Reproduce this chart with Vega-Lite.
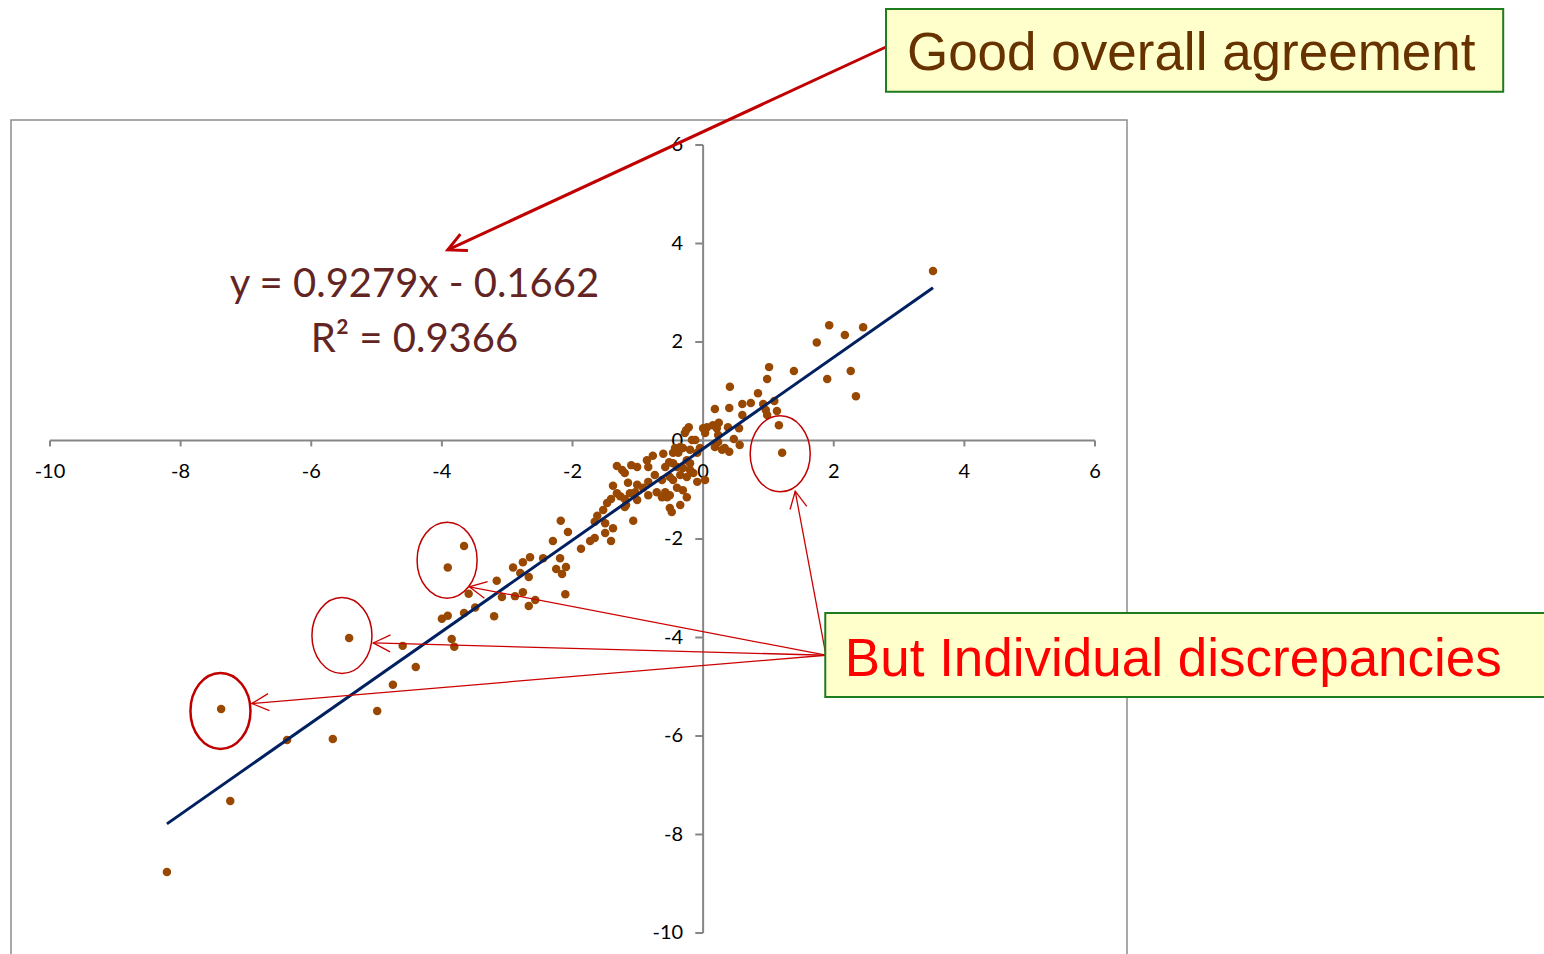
{
  "$schema": "https://vega.github.io/schema/vega-lite/v6.json",
  "width": 1544,
  "height": 954,
  "padding": 0,
  "autosize": {"type": "fit", "contains": "padding"},
  "config": {"view": {"stroke": null}, "font": "Lato"},
  "datasets": {
    "points": [
      {"x": -8.21, "y": -8.76}, {"x": -7.24, "y": -7.32}, {"x": -7.38, "y": -5.45}, {"x": -6.37, "y": -6.08},
      {"x": -5.67, "y": -6.06}, {"x": -5.42, "y": -4.01}, {"x": -4.99, "y": -5.49}, {"x": -4.75, "y": -4.96},
      {"x": -4.40, "y": -4.60}, {"x": -4.60, "y": -4.17}, {"x": -4.00, "y": -3.62}, {"x": -3.91, "y": -3.56},
      {"x": -3.85, "y": -4.03}, {"x": -3.81, "y": -4.19}, {"x": -3.91, "y": -2.58}, {"x": -3.66, "y": -2.14},
      {"x": -3.66, "y": -3.50}, {"x": -3.59, "y": -3.11}, {"x": -3.49, "y": -3.39}, {"x": -3.20, "y": -3.57},
      {"x": -3.16, "y": -2.85}, {"x": -3.08, "y": -3.18}, {"x": -2.91, "y": -2.58}, {"x": -2.88, "y": -3.16},
      {"x": -2.80, "y": -2.69}, {"x": -2.76, "y": -2.47}, {"x": -2.76, "y": -3.08}, {"x": -2.67, "y": -2.77},
      {"x": -2.65, "y": -2.37}, {"x": -2.67, "y": -3.36}, {"x": -2.57, "y": -3.24}, {"x": -2.45, "y": -2.39},
      {"x": -2.30, "y": -2.04}, {"x": -2.18, "y": -1.63}, {"x": -2.07, "y": -1.86}, {"x": -2.19, "y": -2.39},
      {"x": -2.25, "y": -2.61}, {"x": -2.10, "y": -2.57}, {"x": -2.16, "y": -2.71}, {"x": -2.11, "y": -3.12},
      {"x": -1.87, "y": -2.20}, {"x": -1.73, "y": -2.04}, {"x": -1.66, "y": -1.98}, {"x": -1.62, "y": -1.53},
      {"x": -1.66, "y": -1.65}, {"x": -1.50, "y": -1.68}, {"x": -1.50, "y": -1.88}, {"x": -1.38, "y": -1.78},
      {"x": -1.41, "y": -2.04}, {"x": -1.07, "y": -1.63}, {"x": -1.47, "y": -1.27}, {"x": -1.41, "y": -1.19},
      {"x": -1.38, "y": -0.92}, {"x": -1.32, "y": -1.07}, {"x": -1.27, "y": -1.13}, {"x": -1.18, "y": -1.31},
      {"x": -1.20, "y": -1.19}, {"x": -1.01, "y": -1.21}, {"x": -1.01, "y": -0.90}, {"x": -1.12, "y": -1.07},
      {"x": -1.15, "y": -0.86}, {"x": -1.32, "y": -0.52}, {"x": -1.24, "y": -0.60}, {"x": -1.20, "y": -0.66},
      {"x": -1.10, "y": -0.50}, {"x": -1.01, "y": -0.54}, {"x": -0.86, "y": -0.40}, {"x": -0.84, "y": -0.54},
      {"x": -1.53, "y": -1.41},
      {"x": -0.22, "y": 0.27}, {"x": -0.26, "y": 0.21}, {"x": -0.28, "y": 0.15}, {"x": -0.17, "y": 0.01},
      {"x": -0.12, "y": 0.01}, {"x": 0.00, "y": 0.25}, {"x": 0.06, "y": 0.27}, {"x": 0.03, "y": 0.15},
      {"x": 0.15, "y": 0.31}, {"x": 0.21, "y": 0.25}, {"x": 0.23, "y": 0.11}, {"x": -0.43, "y": -0.15},
      {"x": -0.35, "y": -0.13}, {"x": -0.31, "y": -0.15}, {"x": -0.46, "y": -0.25}, {"x": -0.38, "y": -0.25},
      {"x": -0.20, "y": -0.19}, {"x": -0.09, "y": -0.25}, {"x": -0.05, "y": -0.15}, {"x": -0.77, "y": -0.31},
      {"x": -0.61, "y": -0.27}, {"x": -0.52, "y": -0.44}, {"x": -0.46, "y": -0.46}, {"x": -0.25, "y": -0.40},
      {"x": -0.20, "y": -0.46}, {"x": -0.58, "y": -0.54}, {"x": -0.40, "y": -0.54}, {"x": -0.31, "y": -0.56},
      {"x": -0.20, "y": -0.60}, {"x": -0.15, "y": -0.66}, {"x": 0.03, "y": -0.80}, {"x": -0.09, "y": -0.84},
      {"x": -0.74, "y": -0.70}, {"x": -0.84, "y": -0.84}, {"x": -0.63, "y": -0.80}, {"x": -0.51, "y": -0.74},
      {"x": -0.46, "y": -0.80}, {"x": -0.35, "y": -0.70}, {"x": -0.25, "y": -0.74}, {"x": -1.04, "y": -1.05},
      {"x": -0.92, "y": -0.96}, {"x": -0.71, "y": -1.05}, {"x": -0.58, "y": -1.05}, {"x": -0.51, "y": -1.11},
      {"x": -0.40, "y": -0.96}, {"x": -0.31, "y": -1.01}, {"x": -0.25, "y": -1.15}, {"x": -0.84, "y": -1.11},
      {"x": -0.63, "y": -1.15}, {"x": -0.55, "y": -1.15}, {"x": -1.20, "y": -1.35}, {"x": -0.51, "y": -1.37},
      {"x": -0.48, "y": -1.45}, {"x": -0.35, "y": -1.31},
      {"x": 0.41, "y": 1.09}, {"x": 1.01, "y": 1.49}, {"x": 0.98, "y": 1.25}, {"x": 1.39, "y": 1.41},
      {"x": 0.84, "y": 0.96}, {"x": 0.60, "y": 0.74}, {"x": 0.73, "y": 0.76}, {"x": 0.92, "y": 0.74},
      {"x": 1.09, "y": 0.80}, {"x": 0.18, "y": 0.64}, {"x": 0.40, "y": 0.66}, {"x": 0.60, "y": 0.52},
      {"x": 0.96, "y": 0.62}, {"x": 1.13, "y": 0.60}, {"x": 0.98, "y": 0.52}, {"x": 1.16, "y": 0.31},
      {"x": 1.21, "y": -0.25}, {"x": 0.24, "y": 0.36}, {"x": 0.38, "y": 0.27}, {"x": 0.55, "y": 0.25},
      {"x": 0.47, "y": 0.03}, {"x": 0.56, "y": -0.09}, {"x": 0.40, "y": -0.23}, {"x": 0.33, "y": -0.15},
      {"x": 0.23, "y": -0.03}, {"x": 0.18, "y": -0.13}, {"x": 0.29, "y": -0.19},
      {"x": 3.52, "y": 3.44}, {"x": 1.93, "y": 2.34}, {"x": 2.45, "y": 2.30}, {"x": 2.17, "y": 2.14},
      {"x": 1.74, "y": 1.99}, {"x": 1.90, "y": 1.25}, {"x": 2.26, "y": 1.41}, {"x": 2.34, "y": 0.90}
    ],
    "axisrules": [
      {"x": -10, "y": 0, "x2": 6, "y2": 0}, {"x": 0, "y": -10, "x2": 0, "y2": 6},
      {"x": -10, "y": 0, "x2": -10, "y2": -0.12}, {"x": -8, "y": 0, "x2": -8, "y2": -0.12},
      {"x": -6, "y": 0, "x2": -6, "y2": -0.12}, {"x": -4, "y": 0, "x2": -4, "y2": -0.12},
      {"x": -2, "y": 0, "x2": -2, "y2": -0.12}, {"x": 0, "y": 0, "x2": 0, "y2": -0.12},
      {"x": 2, "y": 0, "x2": 2, "y2": -0.12}, {"x": 4, "y": 0, "x2": 4, "y2": -0.12},
      {"x": 6, "y": 0, "x2": 6, "y2": -0.12},
      {"x": -0.12, "y": -10, "x2": 0, "y2": -10}, {"x": -0.12, "y": -8, "x2": 0, "y2": -8},
      {"x": -0.12, "y": -6, "x2": 0, "y2": -6}, {"x": -0.12, "y": -4, "x2": 0, "y2": -4},
      {"x": -0.12, "y": -2, "x2": 0, "y2": -2}, {"x": -0.12, "y": 0, "x2": 0, "y2": 0},
      {"x": -0.12, "y": 2, "x2": 0, "y2": 2}, {"x": -0.12, "y": 4, "x2": 0, "y2": 4},
      {"x": -0.12, "y": 6, "x2": 0, "y2": 6}
    ],
    "xlabels": [
      {"x": -10, "y": 0, "label": "-10"}, {"x": -8, "y": 0, "label": "-8"}, {"x": -6, "y": 0, "label": "-6"},
      {"x": -4, "y": 0, "label": "-4"}, {"x": -2, "y": 0, "label": "-2"}, {"x": 0, "y": 0, "label": "0"},
      {"x": 2, "y": 0, "label": "2"}, {"x": 4, "y": 0, "label": "4"}, {"x": 6, "y": 0, "label": "6"}
    ],
    "ylabels": [
      {"x": 0, "y": -10, "label": "-10"}, {"x": 0, "y": -8, "label": "-8"}, {"x": 0, "y": -6, "label": "-6"},
      {"x": 0, "y": -4, "label": "-4"}, {"x": 0, "y": -2, "label": "-2"}, {"x": 0, "y": 0, "label": "0"},
      {"x": 0, "y": 2, "label": "2"}, {"x": 0, "y": 4, "label": "4"}, {"x": 0, "y": 6, "label": "6"}
    ]
  },
  "encoding": {
    "x": {"field": "x", "type": "quantitative", "scale": {"domain": [-10.7656, 12.8746], "nice": false, "zero": false}, "axis": null},
    "y": {"field": "y", "type": "quantitative", "scale": {"domain": [-10.4264, 8.9442], "nice": false, "zero": false}, "axis": null}
  },
  "layer": [
    {
      "data": {"values": [{"x": -10.597, "y": 6.508, "x2": 6.49, "y2": -10.7}]},
      "mark": {"type": "rect", "fill": "transparent", "stroke": "#8c8c8c", "strokeWidth": 1.5, "clip": true},
      "encoding": {"x2": {"field": "x2"}, "y2": {"field": "y2"}}
    },
    {
      "data": {"name": "axisrules"},
      "mark": {"type": "rule", "color": "#868686", "strokeWidth": 2},
      "encoding": {"x2": {"field": "x2"}, "y2": {"field": "y2"}}
    },
    {
      "data": {"name": "xlabels"},
      "mark": {"type": "text", "align": "center", "baseline": "middle", "dy": 31, "fontSize": 20, "color": "#000000", "font": "Lato"},
      "encoding": {"text": {"field": "label"}}
    },
    {
      "data": {"name": "ylabels"},
      "mark": {"type": "text", "align": "right", "baseline": "middle", "dx": -20, "fontSize": 20, "color": "#000000", "font": "Lato"},
      "encoding": {"text": {"field": "label"}}
    },
    {
      "data": {"name": "points"},
      "mark": {"type": "circle", "size": 72, "color": "#984800", "opacity": 1}
    },
    {
      "data": {"values": [{"x": -8.21, "y": -7.784}, {"x": 3.52, "y": 3.1}]},
      "mark": {"type": "line", "color": "#002060", "strokeWidth": 3},
      "encoding": {}
    },
    {
      "data": {"values": [{"x": -3.92, "y": -2.43}, {"x": -5.53, "y": -3.96}, {"x": 1.18, "y": -0.27}]},
      "mark": {"type": "point", "shape": "M 0.79,0 C 0.79,0.5523 0.4363,1 0,1 C -0.4363,1 -0.79,0.5523 -0.79,0 C -0.79,-0.5523 -0.4363,-1 0,-1 C 0.4363,-1 0.79,-0.5523 0.79,0 Z", "size": 5776, "filled": false, "stroke": "#C00000", "strokeWidth": 1.5, "opacity": 1}
    },
    {
      "data": {"values": [{"x": -7.39, "y": -5.49}]},
      "mark": {"type": "point", "shape": "M 0.79,0 C 0.79,0.5523 0.4363,1 0,1 C -0.4363,1 -0.79,0.5523 -0.79,0 C -0.79,-0.5523 -0.4363,-1 0,-1 C 0.4363,-1 0.79,-0.5523 0.79,0 Z", "size": 5776, "filled": false, "stroke": "#C00000", "strokeWidth": 2.5, "opacity": 1}
    },
    {
      "data": {"values": [
        {"x": 1.88, "y": -4.36, "x2": -3.58, "y2": -2.97},
        {"x": 1.88, "y": -4.36, "x2": -5.05, "y2": -4.11},
        {"x": 1.88, "y": -4.36, "x2": -6.91, "y2": -5.34},
        {"x": 1.88, "y": -4.36, "x2": 1.41, "y2": -1.03}
      ]},
      "mark": {"type": "rule", "color": "#CC0000", "strokeWidth": 1.3},
      "encoding": {"x2": {"field": "x2"}, "y2": {"field": "y2"}}
    },
    {
      "data": {"values": [{"x": -3.58, "y": -2.97}]},
      "mark": {"type": "point", "shape": "M -0.5,1 L 0,0 L 0.5,1", "size": 1156, "filled": false, "stroke": "#CC0000", "strokeWidth": 1.3, "angle": 280.8, "opacity": 1}
    },
    {
      "data": {"values": [{"x": -5.05, "y": -4.11}]},
      "mark": {"type": "point", "shape": "M -0.5,1 L 0,0 L 0.5,1", "size": 1156, "filled": false, "stroke": "#CC0000", "strokeWidth": 1.3, "angle": 271.5, "opacity": 1}
    },
    {
      "data": {"values": [{"x": -6.91, "y": -5.34}]},
      "mark": {"type": "point", "shape": "M -0.5,1 L 0,0 L 0.5,1", "size": 1156, "filled": false, "stroke": "#CC0000", "strokeWidth": 1.3, "angle": 265.2, "opacity": 1}
    },
    {
      "data": {"values": [{"x": 1.41, "y": -1.03}]},
      "mark": {"type": "point", "shape": "M -0.5,1 L 0,0 L 0.5,1", "size": 1156, "filled": false, "stroke": "#CC0000", "strokeWidth": 1.3, "angle": 349.2, "opacity": 1}
    },
    {
      "data": {"values": [{"x": 2.8, "y": 7.99, "x2": -3.91, "y2": 3.87}]},
      "mark": {"type": "rule", "color": "#C00000", "strokeWidth": 3},
      "encoding": {"x2": {"field": "x2"}, "y2": {"field": "y2"}}
    },
    {
      "data": {"values": [{"x": -3.91, "y": 3.87}]},
      "mark": {"type": "point", "shape": "M -0.5,1 L 0,0 L 0.5,1", "size": 1300, "filled": false, "stroke": "#C00000", "strokeWidth": 3, "angle": 245.25, "opacity": 1}
    },
    {
      "data": {"values": [{"x": 2.8, "y": 8.76, "x2": 12.25, "y2": 7.08}]},
      "mark": {"type": "rect", "fill": "#FFFFCC", "stroke": "#1E7B1E", "strokeWidth": 2},
      "encoding": {"x2": {"field": "x2"}, "y2": {"field": "y2"}}
    },
    {
      "data": {"values": [{"x": 3.12, "y": 7.52, "label": "Good overall agreement"}]},
      "mark": {"type": "text", "align": "left", "baseline": "alphabetic", "font": "Liberation Sans", "fontSize": 53, "color": "#663300"},
      "encoding": {"text": {"field": "label"}}
    },
    {
      "data": {"values": [{"x": 1.87, "y": -3.5, "x2": 13.2, "y2": -5.21}]},
      "mark": {"type": "rect", "fill": "#FFFFCC", "stroke": "#1E7B1E", "strokeWidth": 2, "clip": true},
      "encoding": {"x2": {"field": "x2"}, "y2": {"field": "y2"}}
    },
    {
      "data": {"values": [{"x": 2.17, "y": -4.78, "label": "But Individual discrepancies"}]},
      "mark": {"type": "text", "align": "left", "baseline": "alphabetic", "font": "Liberation Sans", "fontSize": 53, "color": "#FF0000"},
      "encoding": {"text": {"field": "label"}}
    },
    {
      "data": {"values": [{"x": -4.42, "y": 2.91, "label": "y = 0.9279x - 0.1662"}, {"x": -4.42, "y": 1.8, "label": "R² = 0.9366"}]},
      "mark": {"type": "text", "align": "center", "baseline": "alphabetic", "font": "Lato", "fontSize": 40, "color": "#632523"},
      "encoding": {"text": {"field": "label"}}
    }
  ]
}
